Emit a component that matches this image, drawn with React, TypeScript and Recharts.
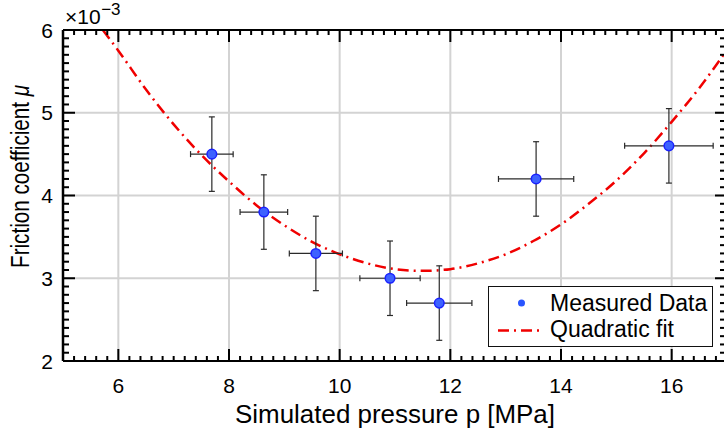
import React from 'react';
import { ComposedChart, Line, Scatter, ErrorBar, XAxis, YAxis, CartesianGrid, Legend } from 'recharts';

// Measured data (x: pressure in MPa, y: friction coefficient in 1e-3)
const pressure = [7.69, 8.63, 9.57, 10.91, 11.8, 13.55, 15.95];
const friction = [4.5, 3.8, 3.3, 3.0, 2.7, 4.2, 4.6];
const pressureErr = [0.385, 0.43, 0.48, 0.545, 0.59, 0.68, 0.8];
const frictionErr = [0.45, 0.45, 0.45, 0.45, 0.45, 0.45, 0.45];

// Quadratic fit curve
const fitPressure = [5.72, 6, 6.5, 7, 7.5, 8, 8.5, 9, 9.5, 10, 10.5, 11, 11.5, 12, 12.5, 13, 13.5, 14, 14.5, 15, 15.5, 16, 16.5, 17];
const fitFriction = [6.0, 5.75, 5.28, 4.86, 4.49, 4.17, 3.88, 3.64, 3.44, 3.29, 3.18, 3.11, 3.09, 3.11, 3.18, 3.29, 3.45, 3.65, 3.9, 4.18, 4.51, 4.89, 5.3, 5.76];

const seriesNames = ['Measured Data', 'Quadratic fit'];
const xAxisTitle = 'Simulated pressure p [MPa]';
const yAxisTitle = 'Friction coefficient ';
const yAxisSymbol = 'μ';
const exponentBase = '×10';
const exponentPower = '−3';

const X_MIN = 5;
const X_MAX = 17;
const Y_MIN = 2;
const Y_MAX = 6;
const majorXTicks = [6, 8, 10, 12, 14, 16];
const majorYTicks = [2, 3, 4, 5, 6];
const gridX = [6, 8, 10, 12, 14, 16];
const gridY = [3, 4, 5];
const allXTicks = Array.from({ length: 61 }, (_, i) => Math.round(50 + i * 2) / 10);
const allYTicks = Array.from({ length: 41 }, (_, i) => Math.round(20 + i) / 10);
const X_TITLE_AT = 11;
const Y_TITLE_AT = 4.2;

const measured = pressure.map((p, i) => ({ x: p, y: friction[i], ex: pressureErr[i], ey: frictionErr[i] }));
const fit = fitPressure.map((p, i) => ({ x: p, y: fitFriction[i] }));

// layout
const CHART_W = 740;
const CHART_H = 434;
const MARGIN = { top: 29, right: 12, bottom: 0, left: 0 };
const LEFT_W = 63;
const RIGHT_W = 1;
const TOP_H = 1;
const BOTTOM_H = 73;
const PLOT_W = CHART_W - MARGIN.left - MARGIN.right - LEFT_W - RIGHT_W;
const PLOT_H = CHART_H - MARGIN.top - MARGIN.bottom - TOP_H - BOTTOM_H;

const FONT = '"Liberation Sans", Arial, Helvetica, sans-serif';
const MAJOR = 12;
const MINOR = 5;
const INK = 'black';

const near = (a: number, b: number) => Math.abs(a - b) < 1e-6;
const isMajorX = (v: number) => majorXTicks.some((t) => near(t, v));
const isMajorY = (v: number) => majorYTicks.some((t) => near(t, v));
const isEndX = (v: number) => near(v, X_MIN) || near(v, X_MAX);
const isEndY = (v: number) => near(v, Y_MIN) || near(v, Y_MAX);

const BottomTick = (props: any) => {
  const { x, y, payload } = props;
  const v = Number(payload.value);
  const major = isMajorX(v);
  const len = major ? MAJOR : MINOR;
  const end = isEndX(v);
  const top = y - PLOT_H;
  return (
    <g>
      <line x1={x} y1={y} x2={x} y2={y - len} stroke={INK} strokeWidth={end ? 0 : 2} />
      <line x1={x} y1={top} x2={x} y2={top + len} stroke={INK} strokeWidth={end ? 0 : 2} />
      {major && (
        <text x={x} y={y + 31.5} textAnchor="middle" fontSize={21} fontFamily={FONT} fill={INK}>
          {v}
        </text>
      )}
      {near(v, X_TITLE_AT) && (
        <text x={x} y={y + 62} textAnchor="middle" fontSize={25} fontFamily={FONT} fill={INK} textLength={320} lengthAdjust="spacingAndGlyphs">
          {xAxisTitle}
        </text>
      )}
    </g>
  );
};

const LeftTick = (props: any) => {
  const { x, y, payload } = props;
  const v = Number(payload.value);
  const major = isMajorY(v);
  const end = isEndY(v);
  const right = x + PLOT_W;
  const tx = x - 34;
  const ty = y - 2.5;
  return (
    <g>
      <line x1={x} y1={y} x2={x + (major ? MAJOR : MINOR + 1)} y2={y} stroke={INK} strokeWidth={end ? 0 : 2} />
      <line x1={right} y1={y} x2={right - (major ? MAJOR : MINOR + 2)} y2={y} stroke={INK} strokeWidth={end ? 0 : 2} />
      {major && (
        <text x={x - 10} y={y + 7.5} textAnchor="end" fontSize={21} fontFamily={FONT} fill={INK}>
          {v}
        </text>
      )}
      {near(v, Y_TITLE_AT) && (
        <text x={tx} y={ty} transform={`rotate(-90, ${tx}, ${ty})`} textAnchor="middle" fontSize={25} fontFamily={FONT} fill={INK} textLength={183} lengthAdjust="spacingAndGlyphs">
          {yAxisTitle}
          <tspan fontStyle="italic">{yAxisSymbol}</tspan>
        </text>
      )}
      {near(v, Y_MAX) && (
        <text x={x + 2} y={y - 6} fontSize={21} fontFamily={FONT} fill={INK}>
          {exponentBase}
          <tspan fontSize={17} dy={-9} dx={0.5}>{exponentPower}</tspan>
        </text>
      )}
    </g>
  );
};

const Marker = (props: any) => {
  const { cx, cy } = props;
  return <circle cx={cx} cy={cy} r={4.8} fill="#3d62ff" stroke="#1a22ff" strokeWidth={1.5} />;
};

const NoMarker = () => <g />;

const LegendBox = () => (
  <div style={{ width: 225, height: 61, border: '1.5px solid #111', background: '#fff', boxSizing: 'border-box' }}>
    <svg width={222} height={58} style={{ display: 'block' }}>
      <circle cx={32.5} cy={16} r={3.5} fill="#2a55ff" />
      <text x={61} y={23.5} fontSize={23} fontFamily={FONT} fill="#000">{seriesNames[0]}</text>
      <line x1={9} y1={43.5} x2={54} y2={43.5} stroke="#f00000" strokeWidth={2.5} strokeDasharray="11 5 2 5" />
      <text x={61} y={50} fontSize={23} fontFamily={FONT} fill="#000">{seriesNames[1]}</text>
    </svg>
  </div>
);

export default function App() {
  return (
    <div style={{ position: 'absolute', left: 0, top: 0, width: 724, height: 434, overflow: 'hidden', background: '#fff' }}>
      <ComposedChart width={CHART_W} height={CHART_H} margin={MARGIN}>
        <CartesianGrid
          xAxisId="b"
          yAxisId="l"
          verticalValues={gridX}
          horizontalValues={gridY}
          stroke="#d3d3d3"
          strokeWidth={2}
        />
        <XAxis
          xAxisId="b"
          dataKey="x"
          type="number"
          domain={[X_MIN, X_MAX]}
          allowDataOverflow
          ticks={allXTicks}
          interval={0}
          height={BOTTOM_H}
          tickSize={0}
          tickMargin={0}
          tickLine={false}
          axisLine={{ stroke: '#000', strokeWidth: 2 }}
          tick={BottomTick}
        />
        <XAxis
          xAxisId="t"
          orientation="top"
          type="number"
          domain={[X_MIN, X_MAX]}
          allowDataOverflow
          height={TOP_H}
          tick={false}
          tickLine={false}
          axisLine={{ stroke: '#000', strokeWidth: 2 }}
        />
        <YAxis
          yAxisId="l"
          dataKey="y"
          type="number"
          domain={[Y_MIN, Y_MAX]}
          allowDataOverflow
          ticks={allYTicks}
          interval={0}
          width={LEFT_W}
          tickSize={0}
          tickMargin={0}
          tickLine={false}
          axisLine={{ stroke: '#000', strokeWidth: 2.5 }}
          tick={LeftTick}
        />
        <YAxis
          yAxisId="r"
          orientation="right"
          type="number"
          domain={[Y_MIN, Y_MAX]}
          allowDataOverflow
          width={RIGHT_W}
          tick={false}
          tickLine={false}
          axisLine={{ stroke: '#000', strokeWidth: 2 }}
        />
        <Line
          xAxisId="b"
          yAxisId="l"
          data={fit}
          dataKey="y"
          name={seriesNames[1]}
          type="monotone"
          stroke="#f00000"
          strokeWidth={2.5}
          strokeDasharray="11 5 2 5"
          dot={false}
          activeDot={false}
          isAnimationActive={false}
        />
        <Scatter
          xAxisId="b"
          yAxisId="l"
          data={measured}
          dataKey="y"
          name={seriesNames[0]}
          shape={Marker}
          isAnimationActive={false}
        />
        <Scatter
          xAxisId="b"
          yAxisId="l"
          data={measured}
          dataKey="y"
          shape={NoMarker}
          legendType="none"
          isAnimationActive={false}
        >
          <ErrorBar dataKey="ey" direction="y" width={3} stroke="#2a2a2a" strokeWidth={1.2} isAnimationActive={false} />
          <ErrorBar dataKey="ex" direction="x" width={3} stroke="#2a2a2a" strokeWidth={1.2} isAnimationActive={false} />
        </Scatter>
        <Legend
          layout="vertical"
          align="center"
          verticalAlign="middle"
          content={LegendBox}
          wrapperStyle={{ left: 488, top: 286, width: 225, height: 61, margin: 0 }}
        />
      </ComposedChart>
    </div>
  );
}
